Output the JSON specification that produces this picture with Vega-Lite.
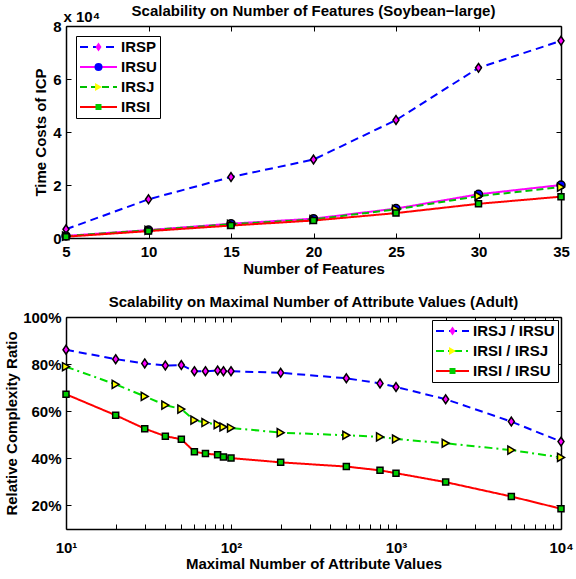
{
  "$schema": "https://vega.github.io/schema/vega-lite/v6.json",
  "background": "white",
  "padding": {"left": 4, "top": 4, "right": 2, "bottom": 2},
  "config": {
    "font": "Liberation Sans",
    "view": {"stroke": null},
    "axis": {
      "labelFont": "Liberation Sans", "labelFontSize": 15, "labelFontWeight": "bold", "labelColor": "black",
      "titleFont": "Liberation Sans", "titleFontSize": 15, "titleFontWeight": "bold", "titleColor": "black",
      "domainColor": "black", "domainWidth": 1.5, "tickColor": "black", "tickWidth": 1, "tickSize": -5,
      "grid": false, "labelFlush": false, "labelOverlap": false
    },
    "legend": {"labelFont": "Liberation Sans", "labelFontSize": 15, "labelFontWeight": "bold", "labelColor": "black"},
    "title": {"font": "Liberation Sans", "fontSize": 15, "fontWeight": "bold", "color": "black"}
  },
  "datasets": {
    "top": [
      {"features": 5, "method": "IRSP", "time": 3300},
      {"features": 10, "method": "IRSP", "time": 14600},
      {"features": 15, "method": "IRSP", "time": 23000},
      {"features": 20, "method": "IRSP", "time": 29600},
      {"features": 25, "method": "IRSP", "time": 44500},
      {"features": 30, "method": "IRSP", "time": 64200},
      {"features": 35, "method": "IRSP", "time": 74400},
      {"features": 5, "method": "IRSU", "time": 800},
      {"features": 10, "method": "IRSU", "time": 3000},
      {"features": 15, "method": "IRSU", "time": 5400},
      {"features": 20, "method": "IRSU", "time": 7300},
      {"features": 25, "method": "IRSU", "time": 11100},
      {"features": 30, "method": "IRSU", "time": 16500},
      {"features": 35, "method": "IRSU", "time": 20000},
      {"features": 5, "method": "IRSJ", "time": 700},
      {"features": 10, "method": "IRSJ", "time": 2900},
      {"features": 15, "method": "IRSJ", "time": 5200},
      {"features": 20, "method": "IRSJ", "time": 7000},
      {"features": 25, "method": "IRSJ", "time": 10800},
      {"features": 30, "method": "IRSJ", "time": 15800},
      {"features": 35, "method": "IRSJ", "time": 19200},
      {"features": 5, "method": "IRSI", "time": 500},
      {"features": 10, "method": "IRSI", "time": 2600},
      {"features": 15, "method": "IRSI", "time": 4700},
      {"features": 20, "method": "IRSI", "time": 6600},
      {"features": 25, "method": "IRSI", "time": 9400},
      {"features": 30, "method": "IRSI", "time": 12900},
      {"features": 35, "method": "IRSI", "time": 15600}
    ],
    "bottom": [
      {"values": 10, "ratio": "IRSJ / IRSU", "pct": 86.1},
      {"values": 20, "ratio": "IRSJ / IRSU", "pct": 82.1},
      {"values": 30, "ratio": "IRSJ / IRSU", "pct": 80.3},
      {"values": 40, "ratio": "IRSJ / IRSU", "pct": 79.4},
      {"values": 50, "ratio": "IRSJ / IRSU", "pct": 79.6},
      {"values": 60, "ratio": "IRSJ / IRSU", "pct": 77.0},
      {"values": 70, "ratio": "IRSJ / IRSU", "pct": 77.0},
      {"values": 83, "ratio": "IRSJ / IRSU", "pct": 77.3},
      {"values": 90, "ratio": "IRSJ / IRSU", "pct": 77.0},
      {"values": 100, "ratio": "IRSJ / IRSU", "pct": 77.0},
      {"values": 200, "ratio": "IRSJ / IRSU", "pct": 76.3},
      {"values": 500, "ratio": "IRSJ / IRSU", "pct": 74.0},
      {"values": 800, "ratio": "IRSJ / IRSU", "pct": 71.8},
      {"values": 1000, "ratio": "IRSJ / IRSU", "pct": 70.3},
      {"values": 2000, "ratio": "IRSJ / IRSU", "pct": 65.1},
      {"values": 5000, "ratio": "IRSJ / IRSU", "pct": 55.6},
      {"values": 10000, "ratio": "IRSJ / IRSU", "pct": 47.1},
      {"values": 10, "ratio": "IRSI / IRSJ", "pct": 78.9},
      {"values": 20, "ratio": "IRSI / IRSJ", "pct": 71.4},
      {"values": 30, "ratio": "IRSI / IRSJ", "pct": 66.3},
      {"values": 40, "ratio": "IRSI / IRSJ", "pct": 62.6},
      {"values": 50, "ratio": "IRSI / IRSJ", "pct": 60.9},
      {"values": 60, "ratio": "IRSI / IRSJ", "pct": 56.2},
      {"values": 70, "ratio": "IRSI / IRSJ", "pct": 55.2},
      {"values": 83, "ratio": "IRSI / IRSJ", "pct": 54.3},
      {"values": 90, "ratio": "IRSI / IRSJ", "pct": 53.3},
      {"values": 100, "ratio": "IRSI / IRSJ", "pct": 52.9},
      {"values": 200, "ratio": "IRSI / IRSJ", "pct": 50.9},
      {"values": 500, "ratio": "IRSI / IRSJ", "pct": 49.8},
      {"values": 800, "ratio": "IRSI / IRSJ", "pct": 49.1},
      {"values": 1000, "ratio": "IRSI / IRSJ", "pct": 48.2},
      {"values": 2000, "ratio": "IRSI / IRSJ", "pct": 46.4},
      {"values": 5000, "ratio": "IRSI / IRSJ", "pct": 43.5},
      {"values": 10000, "ratio": "IRSI / IRSJ", "pct": 40.4},
      {"values": 10, "ratio": "IRSI / IRSU", "pct": 67.2},
      {"values": 20, "ratio": "IRSI / IRSU", "pct": 58.3},
      {"values": 30, "ratio": "IRSI / IRSU", "pct": 52.6},
      {"values": 40, "ratio": "IRSI / IRSU", "pct": 49.4},
      {"values": 50, "ratio": "IRSI / IRSU", "pct": 48.1},
      {"values": 60, "ratio": "IRSI / IRSU", "pct": 42.8},
      {"values": 70, "ratio": "IRSI / IRSU", "pct": 42.0},
      {"values": 83, "ratio": "IRSI / IRSU", "pct": 41.5},
      {"values": 90, "ratio": "IRSI / IRSU", "pct": 40.6},
      {"values": 100, "ratio": "IRSI / IRSU", "pct": 40.1},
      {"values": 200, "ratio": "IRSI / IRSU", "pct": 38.3},
      {"values": 500, "ratio": "IRSI / IRSU", "pct": 36.5},
      {"values": 800, "ratio": "IRSI / IRSU", "pct": 34.9},
      {"values": 1000, "ratio": "IRSI / IRSU", "pct": 33.7},
      {"values": 2000, "ratio": "IRSI / IRSU", "pct": 29.9},
      {"values": 5000, "ratio": "IRSI / IRSU", "pct": 23.8},
      {"values": 10000, "ratio": "IRSI / IRSU", "pct": 18.6}
    ]
  },
  "spacing": 19,
  "resolve": {"scale": {"stroke": "independent", "strokeDash": "independent", "shape": "independent", "fill": "independent"}},
  "vconcat": [
    {
      "width": 495,
      "height": 212,
      "title": {"text": "Scalability on Number of Features (Soybean−large)", "frame": "group", "offset": -10},
      "data": {"name": "top"},
      "layer": [
        {
          "mark": {"type": "line", "strokeWidth": 2},
          "encoding": {
            "x": {"field": "features", "type": "quantitative", "scale": {"domain": [5, 35], "nice": false, "zero": false},
              "axis": {"orient": "bottom", "values": [5, 10, 15, 20, 25, 30, 35], "title": "Number of Features", "labelPadding": 11, "titlePadding": 2}},
            "y": {"field": "time", "type": "quantitative", "scale": {"domain": [0, 80000], "nice": false},
              "axis": {"orient": "left", "values": [0, 20000, 40000, 60000, 80000], "labelExpr": "format(datum.value/10000, 'd')", "title": "Time Costs of ICP", "labelPadding": 10, "titlePadding": 4}},
            "stroke": {"field": "method", "type": "nominal",
              "scale": {"domain": ["IRSP", "IRSU", "IRSJ", "IRSI"], "range": ["#0000ff", "#ff00ff", "#00c000", "#ff0000"]},
              "legend": {"orient": "top-left", "offset": 10, "title": null, "symbolType": "stroke", "symbolSize": 1369, "symbolStrokeWidth": 2, "clipHeight": 16, "rowPadding": 4, "padding": 3, "labelOffset": 3, "strokeColor": "black", "fillColor": "white"}},
            "strokeDash": {"field": "method", "type": "nominal",
              "scale": {"domain": ["IRSP", "IRSU", "IRSJ", "IRSI"], "range": [[8, 5], [1, 0], [7, 4], [1, 0]]},
              "legend": {"orient": "top-left", "offset": 10, "title": null}}
          }
        },
        {
          "mark": {"type": "point", "filled": true, "opacity": 1, "stroke": "black", "strokeWidth": 1.5, "size": 64},
          "encoding": {
            "x": {"field": "features", "type": "quantitative", "scale": {"domain": [5, 35], "nice": false, "zero": false},
              "axis": {"orient": "top", "values": [5, 10, 15, 20, 25, 30, 35], "labels": false, "title": null}},
            "y": {"field": "time", "type": "quantitative", "scale": {"domain": [0, 80000], "nice": false},
              "axis": {"orient": "right", "values": [0, 20000, 40000, 60000, 80000], "labels": false, "title": "x 10⁴", "titleAngle": 0, "titleX": -498, "titleY": -5, "titleAlign": "left", "titleBaseline": "alphabetic"}},
            "shape": {"field": "method", "type": "nominal",
              "scale": {"domain": ["IRSP", "IRSU", "IRSJ", "IRSI"], "range": ["M0,-1.1L0.75,0L0,1.1L-0.75,0Z", "circle", "triangle-right", "M-0.75,-0.75H0.75V0.75H-0.75Z"]},
              "legend": {"orient": "none", "legendX": 10, "legendY": 10, "title": null, "symbolSize": 64, "symbolStrokeColor": "black", "symbolStrokeWidth": 1.5, "clipHeight": 16, "rowPadding": 4, "padding": 3, "labelOffset": 3, "labelExpr": "''", "symbolOffset": 12}},
            "fill": {"field": "method", "type": "nominal",
              "scale": {"domain": ["IRSP", "IRSU", "IRSJ", "IRSI"], "range": ["#ff00ff", "#0000ff", "#ffff00", "#00cc00"]}}
          }
        }
      ],
      "resolve": {"axis": {"x": "independent", "y": "independent"}}
    },
    {
      "width": 495,
      "height": 212,
      "title": {"text": "Scalability on Maximal Number of Attribute Values (Adult)", "frame": "group", "offset": 0},
      "data": {"name": "bottom"},
      "layer": [
        {
          "mark": {"type": "line", "strokeWidth": 2},
          "encoding": {
            "x": {"field": "values", "type": "quantitative", "scale": {"type": "log", "domain": [10, 10000], "nice": false},
              "axis": {"orient": "bottom", "values": [10, 20, 30, 40, 50, 60, 70, 80, 90, 100, 200, 300, 400, 500, 600, 700, 800, 900, 1000, 2000, 3000, 4000, 5000, 6000, 7000, 8000, 9000, 10000],
                "labelExpr": "datum.value == 10 ? '10¹' : datum.value == 100 ? '10²' : datum.value == 1000 ? '10³' : datum.value == 10000 ? '10⁴' : ''",
                "title": "Maximal Number of Attribute Values", "labelPadding": 16, "titlePadding": 1,
                "encode": {"ticks": {"update": {"y2": {"signal": "(datum.value == 10 || datum.value == 100 || datum.value == 1000 || datum.value == 10000) ? -5 : -3"}}}}}},
            "y": {"field": "pct", "type": "quantitative", "scale": {"domain": [10, 100], "nice": false},
              "axis": {"orient": "left", "values": [20, 40, 60, 80, 100], "labelExpr": "datum.value + '%'", "title": "Relative Complexity Ratio", "labelPadding": 10, "titlePadding": 3}},
            "stroke": {"field": "ratio", "type": "nominal",
              "scale": {"domain": ["IRSJ / IRSU", "IRSI / IRSJ", "IRSI / IRSU"], "range": ["#0000ff", "#00dd00", "#ff0000"]},
              "legend": {"orient": "top-right", "offset": 3, "title": null, "symbolType": "stroke", "symbolSize": 1089, "symbolStrokeWidth": 2, "clipHeight": 16, "rowPadding": 4, "padding": 3, "labelOffset": 3, "strokeColor": "black", "fillColor": "white"}},
            "strokeDash": {"field": "ratio", "type": "nominal",
              "scale": {"domain": ["IRSJ / IRSU", "IRSI / IRSJ", "IRSI / IRSU"], "range": [[8, 5], [8, 4, 2, 4], [1, 0]]},
              "legend": {"orient": "top-right", "offset": 3, "title": null}}
          }
        },
        {
          "mark": {"type": "point", "filled": true, "opacity": 1, "stroke": "black", "strokeWidth": 1.5, "size": 64},
          "encoding": {
            "x": {"field": "values", "type": "quantitative", "scale": {"type": "log", "domain": [10, 10000], "nice": false},
              "axis": {"orient": "top", "values": [10, 20, 30, 40, 50, 60, 70, 80, 90, 100, 200, 300, 400, 500, 600, 700, 800, 900, 1000, 2000, 3000, 4000, 5000, 6000, 7000, 8000, 9000, 10000],
                "labels": false, "title": null,
                "encode": {"ticks": {"update": {"y2": {"signal": "(datum.value == 10 || datum.value == 100 || datum.value == 1000 || datum.value == 10000) ? 5 : 3"}}}}}},
            "y": {"field": "pct", "type": "quantitative", "scale": {"domain": [10, 100], "nice": false},
              "axis": {"orient": "right", "values": [20, 40, 60, 80, 100], "labels": false, "title": null}},
            "shape": {"field": "ratio", "type": "nominal",
              "scale": {"domain": ["IRSJ / IRSU", "IRSI / IRSJ", "IRSI / IRSU"], "range": ["M0,-1.1L0.75,0L0,1.1L-0.75,0Z", "triangle-right", "M-0.75,-0.75H0.75V0.75H-0.75Z"]},
              "legend": {"orient": "none", "legendX": 366, "legendY": 3, "title": null, "symbolSize": 64, "symbolStrokeColor": "black", "symbolStrokeWidth": 1.5, "clipHeight": 16, "rowPadding": 4, "padding": 3, "labelOffset": 3, "labelExpr": "''", "symbolOffset": 10}},
            "fill": {"field": "ratio", "type": "nominal",
              "scale": {"domain": ["IRSJ / IRSU", "IRSI / IRSJ", "IRSI / IRSU"], "range": ["#ff00ff", "#ffff00", "#00cc00"]}}
          }
        }
      ],
      "resolve": {"axis": {"x": "independent", "y": "independent"}}
    }
  ]
}
